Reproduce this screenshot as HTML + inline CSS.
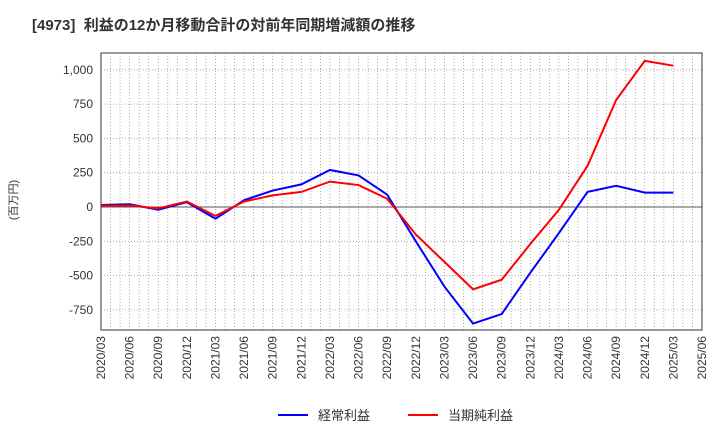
<!DOCTYPE html>
<html><head><meta charset="utf-8"><style>
body{margin:0;background:#fff;font-family:"Liberation Sans","Noto Sans CJK JP",sans-serif;}
svg text{font-family:"Liberation Sans","Noto Sans CJK JP",sans-serif;}
</style></head><body>
<svg id="c" width="720" height="440" xmlns="http://www.w3.org/2000/svg">
<text x="32" y="30" font-size="15" font-weight="bold" fill="#333" xml:space="preserve">[4973]  利益の12か月移動合計の対前年同期増減額の推移</text>
<text transform="translate(17,200) rotate(-90)" font-size="11" fill="#333" text-anchor="middle">(百万円)</text>
<g id="grid"></g><g id="axes"></g><g id="series"></g>
<g>
<line x1="278" y1="415" x2="308" y2="415" stroke="#0000ff" stroke-width="2"/>
<text x="318" y="420" font-size="13" fill="#333">経常利益</text>
<line x1="408" y1="415" x2="438" y2="415" stroke="#ff0000" stroke-width="2"/>
<text x="448" y="420" font-size="13" fill="#333">当期純利益</text>
</g>
</svg>
<script>
const categories=["2020/03","2020/06","2020/09","2020/12","2021/03","2021/06","2021/09","2021/12","2022/03","2022/06","2022/09","2022/12","2023/03","2023/06","2023/09","2023/12","2024/03","2024/06","2024/09","2024/12","2025/03","2025/06"];
const ordinaryProfit=[15,20,-20,35,-85,50,120,165,270,230,90,-250,-580,-850,-780,-480,-190,110,155,105,105];
const netProfit=[10,10,-10,40,-65,40,85,110,185,160,60,-200,-400,-600,-530,-270,-20,300,780,1065,1030];
const yTicks=[1000,750,500,250,0,-250,-500,-750];
const yLabels=["1,000","750","500","250","0","-250","-500","-750"];
const NS="http://www.w3.org/2000/svg";
const L=101,R=702,T=53,B=330;
const x=i=>L+(R-L)*i/(categories.length-1);
const y=v=>207-v*0.1372;
function mk(t,a,p){const e=document.createElementNS(NS,t);for(const k in a)e.setAttribute(k,a[k]);p.appendChild(e);return e;}
const g=document.getElementById('grid'),ax=document.getElementById('axes'),s=document.getElementById('series');
for(let m=1;m<(categories.length-1)*3;m++){const xx=L+(R-L)*m/((categories.length-1)*3);
const ln=mk('line',{x1:xx,x2:xx,y1:T,y2:B,stroke:'#999','stroke-width':0.8,'stroke-dasharray':'1,2'},g);

}
yTicks.forEach((v,i)=>{const ln=mk('line',{x1:L,x2:R,y1:y(v),y2:y(v),stroke:v===0?'#555':'#999','stroke-width':v===0?1:0.8,'stroke-dasharray':v===0?'':'1,2'},g);


const t=mk('text',{x:L-8,y:y(v)+4,'font-size':12,fill:'#333','text-anchor':'end'},ax);t.textContent=yLabels[i];

});
const fr=mk('rect',{x:L,y:T,width:R-L,height:B-T,fill:'none',stroke:'#333','stroke-width':1},ax);


categories.forEach((c,i)=>{const t=mk('text',{transform:`translate(${x(i)+4},${B+6}) rotate(-90)`,'font-size':12,fill:'#333','text-anchor':'end'},ax);t.textContent=c;

});
function line(d,col,name){const p=mk('polyline',{points:d.map((v,i)=>x(i)+','+y(v)).join(' '),fill:'none',stroke:col,'stroke-width':2},s);

}
line(ordinaryProfit,'#0000ff','ordinary-profit-line');
line(netProfit,'#ff0000','net-profit-line');
</script>
</body></html>
